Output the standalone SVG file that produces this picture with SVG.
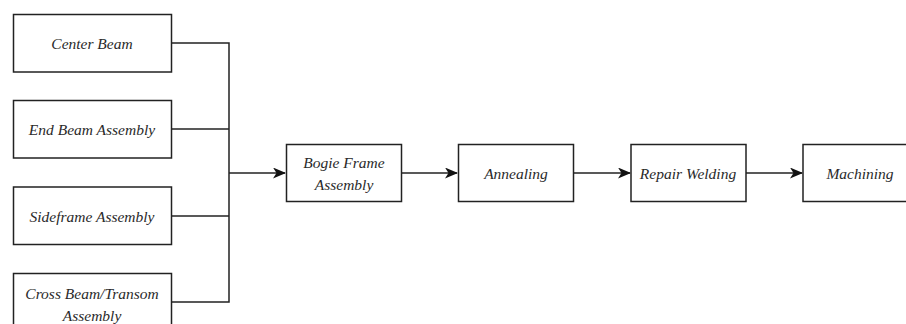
<svg xmlns="http://www.w3.org/2000/svg" width="906" height="324" viewBox="0 0 906 324">
<style>
.box{fill:#fff;stroke:#222;stroke-width:1.5}
.t{font-family:"Liberation Serif","Times New Roman",serif;font-style:italic;font-size:15.5px;fill:#2a2a2a;text-anchor:middle}
.c{fill:none;stroke:#222;stroke-width:1.5}
</style>
<defs>
<marker id="arr" viewBox="0 0 13 11" refX="12" refY="5.5" markerWidth="13" markerHeight="11" markerUnits="userSpaceOnUse" orient="auto">
<path d="M0,0 L13,5.5 L0,11 L3.5,5.5 Z" fill="#111"/>
</marker>
</defs>
<rect width="906" height="324" fill="#fff"/>
<g id="connectors">
<path class="c" d="M172,43 H229 V302 H172"/>
<path class="c" d="M172,129 H229"/>
<path class="c" d="M172,216 H229"/>
<path class="c" d="M229,173 H285" marker-end="url(#arr)"/>
<path class="c" d="M402,173 H457" marker-end="url(#arr)"/>
<path class="c" d="M574,173 H630" marker-end="url(#arr)"/>
<path class="c" d="M746,173 H802" marker-end="url(#arr)"/>
</g>
<g id="center-beam"><rect class="box" x="13.5" y="14.5" width="158" height="57.5"/><text class="t" x="92" y="49">Center Beam</text></g>
<g id="end-beam"><rect class="box" x="13.5" y="100.5" width="158" height="57.5"/><text class="t" x="92" y="135">End Beam Assembly</text></g>
<g id="sideframe"><rect class="box" x="13.5" y="187" width="158" height="57.5"/><text class="t" x="92" y="221.5">Sideframe Assembly</text></g>
<g id="cross-beam"><rect class="box" x="13.5" y="273.5" width="158" height="57.5"/><text class="t" x="92" y="299">Cross Beam/Transom</text><text class="t" x="92" y="321">Assembly</text></g>
<g id="bogie"><rect class="box" x="286.5" y="144.5" width="115" height="57"/><text class="t" x="344" y="168">Bogie Frame</text><text class="t" x="344" y="190">Assembly</text></g>
<g id="annealing"><rect class="box" x="458.5" y="144.5" width="115" height="57"/><text class="t" x="516" y="178.5">Annealing</text></g>
<g id="repair"><rect class="box" x="631" y="144.5" width="115" height="57"/><text class="t" x="688" y="178.5">Repair Welding</text></g>
<g id="machining"><rect class="box" x="803" y="144.5" width="115" height="57"/><text class="t" x="860" y="178.5">Machining</text></g>
</svg>
